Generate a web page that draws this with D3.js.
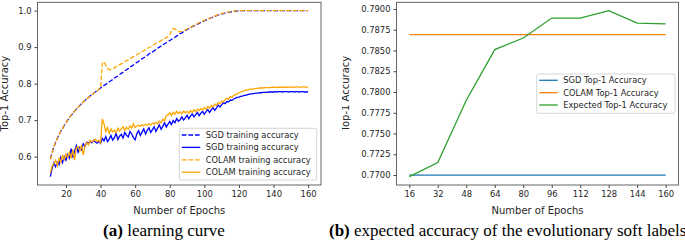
<!DOCTYPE html>
<html>
<head>
<meta charset="utf-8">
<script src="https://cdn.jsdelivr.net/npm/d3@7"></script>
<style>
  body { margin: 0; background: white; }
  svg { display: block; }
  text { font-family: "DejaVu Sans", sans-serif; }
</style>
</head>
<body>
<div id="container"></div>
<script>
/* (a) learning curve data, epochs 11..160 */
const curveEpochs = d3.range(11, 161);

const sgdTrain = [
  0.594, 0.611, 0.626, 0.639, 0.650, 0.660, 0.669, 0.677, 0.685, 0.693,
  0.700, 0.707, 0.713, 0.719, 0.725, 0.730, 0.735, 0.740, 0.745, 0.750,
  0.754, 0.758, 0.762, 0.766, 0.770, 0.773, 0.777, 0.780, 0.784, 0.788,
  0.791, 0.795, 0.798, 0.801, 0.805, 0.808, 0.811, 0.815, 0.818, 0.821,
  0.825, 0.828, 0.831, 0.835, 0.838, 0.841, 0.845, 0.848, 0.851, 0.855,
  0.858, 0.861, 0.864, 0.868, 0.871, 0.874, 0.877, 0.881, 0.884, 0.887,
  0.890, 0.893, 0.897, 0.900, 0.903, 0.906, 0.909, 0.912, 0.915, 0.918,
  0.921, 0.924, 0.927, 0.930, 0.933, 0.937, 0.939, 0.942, 0.945, 0.948,
  0.951, 0.953, 0.956, 0.958, 0.961, 0.963, 0.965, 0.968, 0.970, 0.972,
  0.974, 0.976, 0.979, 0.980, 0.982, 0.984, 0.986, 0.988, 0.989, 0.991,
  0.992, 0.993, 0.994, 0.995, 0.996, 0.997, 0.998, 0.998, 0.999, 0.999,
  0.999, 1.000, 1.000, 1.000, 1.000, 1.000, 1.000, 1.000, 1.000, 1.000,
  1.000, 1.000, 1.000, 1.000, 1.000, 1.000, 1.000, 1.000, 1.000, 1.000,
  1.000, 1.000, 1.000, 1.000, 1.000, 1.000, 1.000, 1.000, 1.000, 1.000,
  1.000, 1.000, 1.000, 1.000, 1.000, 1.000, 1.000, 1.000, 1.000, 1.000
];

const sgdTest = [
  0.545, 0.568, 0.583, 0.572, 0.585, 0.578, 0.598, 0.583, 0.600, 0.590,
  0.605, 0.596, 0.622, 0.597, 0.615, 0.630, 0.612, 0.625, 0.618, 0.635,
  0.628, 0.640, 0.636, 0.642, 0.638, 0.645, 0.640, 0.637, 0.642, 0.636,
  0.650, 0.643, 0.655, 0.641, 0.648, 0.658, 0.645, 0.652, 0.664, 0.647,
  0.656, 0.661, 0.651, 0.666, 0.659, 0.654, 0.669, 0.662, 0.652, 0.646,
  0.663, 0.671, 0.658, 0.667, 0.676, 0.662, 0.672, 0.679, 0.666, 0.674,
  0.682, 0.669, 0.678, 0.687, 0.675, 0.683, 0.693, 0.681, 0.689, 0.696,
  0.688, 0.699, 0.693, 0.704, 0.697, 0.701, 0.709, 0.700, 0.706, 0.713,
  0.704, 0.711, 0.717, 0.709, 0.715, 0.721, 0.712, 0.719, 0.724, 0.716,
  0.723, 0.729, 0.721, 0.728, 0.735, 0.727, 0.733, 0.741, 0.736, 0.742,
  0.748, 0.745, 0.751, 0.750, 0.755, 0.754, 0.758, 0.760, 0.762, 0.763,
  0.765, 0.766, 0.768, 0.768, 0.770, 0.771, 0.772, 0.772, 0.773, 0.774,
  0.774, 0.775, 0.775, 0.776, 0.776, 0.776, 0.777, 0.777, 0.777, 0.777,
  0.778, 0.777, 0.778, 0.778, 0.777, 0.778, 0.778, 0.778, 0.777, 0.778,
  0.778, 0.777, 0.778, 0.778, 0.777, 0.778, 0.778, 0.777, 0.777, 0.778
];

const colamTrain = [
  0.592, 0.610, 0.627, 0.638, 0.651, 0.659, 0.670, 0.676, 0.686, 0.692,
  0.701, 0.706, 0.714, 0.718, 0.726, 0.729, 0.736, 0.739, 0.746, 0.749,
  0.755, 0.757, 0.763, 0.765, 0.771, 0.772, 0.778, 0.779, 0.785, 0.787,
  0.855, 0.860, 0.851, 0.842, 0.838, 0.839, 0.841, 0.843, 0.846, 0.849,
  0.852, 0.854, 0.857, 0.860, 0.863, 0.865, 0.868, 0.871, 0.874, 0.877,
  0.879, 0.882, 0.885, 0.888, 0.890, 0.893, 0.896, 0.899, 0.901, 0.904,
  0.907, 0.910, 0.912, 0.915, 0.918, 0.921, 0.923, 0.926, 0.929, 0.933,
  0.945, 0.951, 0.950, 0.946, 0.943, 0.942, 0.943, 0.945, 0.947, 0.949,
  0.952, 0.954, 0.957, 0.959, 0.962, 0.964, 0.967, 0.969, 0.971, 0.973,
  0.975, 0.977, 0.979, 0.981, 0.983, 0.985, 0.987, 0.989, 0.990, 0.992,
  0.993, 0.994, 0.995, 0.996, 0.997, 0.998, 0.998, 0.999, 0.999, 1.000,
  1.000, 1.000, 1.000, 1.000, 1.000, 1.000, 1.000, 1.000, 1.000, 1.000,
  1.000, 1.000, 1.000, 1.000, 1.000, 1.000, 1.000, 1.000, 1.000, 1.000,
  1.000, 1.000, 1.000, 1.000, 1.000, 1.000, 1.000, 1.000, 1.000, 1.000,
  1.000, 1.000, 1.000, 1.000, 1.000, 1.000, 1.000, 1.000, 1.000, 1.000
];

const colamTest = [
  0.555, 0.575, 0.580, 0.590, 0.576, 0.595, 0.585, 0.603, 0.592, 0.607,
  0.598, 0.612, 0.595, 0.620, 0.590, 0.625, 0.628, 0.615, 0.632, 0.605,
  0.630, 0.638, 0.632, 0.645, 0.640, 0.643, 0.648, 0.641, 0.645, 0.638,
  0.703, 0.690, 0.668, 0.680, 0.664, 0.676, 0.668, 0.672, 0.665, 0.678,
  0.670, 0.676, 0.682, 0.672, 0.680, 0.675, 0.684, 0.678, 0.690, 0.680,
  0.684, 0.686, 0.683, 0.687, 0.685, 0.688, 0.686, 0.690, 0.687, 0.692,
  0.689, 0.694, 0.690, 0.697, 0.693, 0.702, 0.698, 0.712, 0.715, 0.720,
  0.713, 0.722, 0.716, 0.724, 0.718, 0.723, 0.717, 0.725, 0.720, 0.724,
  0.719, 0.726, 0.721, 0.728, 0.723, 0.730, 0.726, 0.732, 0.728, 0.734,
  0.729, 0.737, 0.733, 0.740, 0.736, 0.744, 0.741, 0.748, 0.745, 0.752,
  0.750, 0.756, 0.760, 0.757, 0.765, 0.762, 0.768, 0.770, 0.772, 0.775,
  0.777, 0.779, 0.780, 0.782, 0.782, 0.784, 0.785, 0.785, 0.786, 0.787,
  0.787, 0.788, 0.788, 0.788, 0.789, 0.789, 0.789, 0.789, 0.790, 0.790,
  0.790, 0.789, 0.790, 0.790, 0.790, 0.791, 0.790, 0.790, 0.791, 0.790,
  0.791, 0.790, 0.791, 0.791, 0.790, 0.791, 0.791, 0.791, 0.790, 0.791
];

const curveSeries = [
  { name: "SGD training accuracy", values: sgdTrain, color: "#0000ff", dash: "4.6,2" },
  { name: "SGD training accuracy", values: sgdTest, color: "#0000ff", dash: null },
  { name: "COLAM training accuracy", values: colamTrain, color: "#ffa500", dash: "4.6,2" },
  { name: "COLAM training accuracy", values: colamTest, color: "#ffa500", dash: null }
];
const curveXTicks = [20, 40, 60, 80, 100, 120, 140, 160];
const curveYTicks = [0.6, 0.7, 0.8, 0.9, 1.0];

/* (b) expected accuracy of the soft labels */
const softEpochs = [16, 32, 48, 64, 80, 96, 112, 128, 144, 160];
const sgdTop1 = [0.7700, 0.7700, 0.7700, 0.7700, 0.7700, 0.7700, 0.7700, 0.7700, 0.7700, 0.7700];
const colamTop1 = [0.7869, 0.7869, 0.7869, 0.7869, 0.7869, 0.7869, 0.7869, 0.7869, 0.7869, 0.7869];
const expectedTop1 = [0.7698, 0.7715, 0.7790, 0.7851, 0.7865, 0.7889, 0.7889, 0.7898, 0.7883, 0.7882];

const softSeries = [
  { name: "SGD Top-1 Accuracy", values: sgdTop1, color: "#1f77b4" },
  { name: "COLAM Top-1 Accuracy", values: colamTop1, color: "#ff7f0e" },
  { name: "Expected Top-1 Accuracy", values: expectedTop1, color: "#2ca02c" }
];
const softYTicks = [0.7700, 0.7725, 0.7750, 0.7775, 0.7800, 0.7825, 0.7850, 0.7875, 0.7900];

const W = 685, H = 242;
const tickFont = 8.4, labelFont = 10, legendFont = 8.3;

const svg = d3.select("#container").append("svg")
  .attr("width", W)
  .attr("height", H);

// matplotlib style 5% margins around the data
function padded(lo, hi) {
  const r = hi - lo;
  return [lo - 0.05 * r, hi + 0.05 * r];
}

function drawPanel(g, box, xs, series, xTicks, yTicks, yFmt, legend) {
  const allY = series.flatMap(s => s.values);
  const x = d3.scaleLinear().domain(padded(d3.min(xs), d3.max(xs))).range([box.left, box.right]);
  const y = d3.scaleLinear().domain(padded(d3.min(allY), d3.max(allY))).range([box.bottom, box.top]);

  const xAxis = g.append("g")
    .attr("transform", `translate(0,${box.bottom})`)
    .call(d3.axisBottom(x).tickValues(xTicks).tickSize(3).tickPadding(2.8).tickFormat(d3.format("d")));
  const yAxis = g.append("g")
    .attr("transform", `translate(${box.left},0)`)
    .call(d3.axisLeft(y).tickValues(yTicks).tickSize(3).tickPadding(3).tickFormat(d3.format(yFmt)));
  [xAxis, yAxis].forEach(a => {
    a.select(".domain").remove();
    a.selectAll("line").attr("stroke", "#444");
    a.selectAll("text").attr("fill", "#262626").style("font-size", tickFont + "px")
      .style("font-family", "DejaVu Sans");
  });

  const line = d3.line()
    .x((d, i) => x(xs[i]))
    .y(d => y(d));

  series.forEach(s => {
    g.append("path")
      .datum(s.values)
      .attr("d", line)
      .attr("fill", "none")
      .attr("stroke", s.color)
      .attr("stroke-width", 1.3)
      .attr("stroke-dasharray", s.dash || null);
  });

  // frame
  g.append("rect")
    .attr("x", box.left).attr("y", box.top)
    .attr("width", box.right - box.left).attr("height", box.bottom - box.top)
    .attr("fill", "none").attr("stroke", "#555").attr("stroke-width", 0.9);

  // axis labels
  g.append("text")
    .attr("x", (box.left + box.right) / 2).attr("y", 214)
    .attr("text-anchor", "middle").attr("fill", "#262626")
    .style("font-size", labelFont + "px")
    .text("Number of Epochs");
  g.append("text")
    .attr("transform", `translate(${box.ylabelX},${(box.top + box.bottom) / 2}) rotate(-90)`)
    .attr("text-anchor", "middle").attr("fill", "#262626")
    .style("font-size", labelFont + "px")
    .text("Top-1 Accuracy");

  // legend
  const lg = g.append("g");
  lg.append("rect")
    .attr("x", legend.x0).attr("y", legend.y0)
    .attr("width", legend.x1 - legend.x0).attr("height", legend.y1 - legend.y0)
    .attr("rx", 2)
    .attr("fill", "white").attr("fill-opacity", 0.85)
    .attr("stroke", "#cccccc").attr("stroke-width", 0.8);
  series.forEach((s, i) => {
    const cy = legend.firstY + i * legend.step;
    lg.append("line")
      .attr("x1", legend.x0 + 2.5).attr("x2", legend.x0 + 21)
      .attr("y1", cy).attr("y2", cy)
      .attr("stroke", s.color).attr("stroke-width", 1.3)
      .attr("stroke-dasharray", s.dash || null);
    lg.append("text")
      .attr("x", legend.x0 + 26.5).attr("y", cy)
      .attr("dy", "0.35em").attr("fill", "#262626")
      .style("font-size", legendFont + "px")
      .text(s.name);
  });
}

// (a) left panel
const left = svg.append("g");
drawPanel(left,
  { left: 37.5, right: 321, top: 2.3, bottom: 185, ylabelX: 8.3 },
  curveEpochs, curveSeries, curveXTicks, curveYTicks, ".1f",
  { x0: 179.3, x1: 316.7, y0: 128.3, y1: 180, firstY: 135, step: 12.4 });

// (b) right panel, cropped on its left edge like the source figure
svg.append("clipPath").attr("id", "clipB")
  .append("rect").attr("x", 342).attr("y", 0).attr("width", W - 342).attr("height", 220);
const right = svg.append("g").attr("clip-path", "url(#clipB)");
drawPanel(right,
  { left: 396.5, right: 678.5, top: 2.3, bottom: 185, ylabelX: 348.5 },
  softEpochs, softSeries, softEpochs, softYTicks, ".4f",
  { x0: 536.7, x1: 675, y0: 74, y1: 113.3, firstY: 80.3, step: 12.35 });

// captions
const capA = svg.append("text")
  .attr("x", 164).attr("y", 235.5)
  .attr("text-anchor", "middle")
  .style("font-family", "Liberation Serif")
  .style("font-size", "17px");
capA.append("tspan").attr("font-weight", "bold").text("(a)");
capA.append("tspan").text(" learning curve");

const capB = svg.append("text")
  .attr("x", 329).attr("y", 235.5)
  .style("font-family", "Liberation Serif")
  .style("font-size", "17px");
capB.append("tspan").attr("font-weight", "bold").text("(b)");
capB.append("tspan").text(" expected accuracy of the evolutionary soft labels");
</script>
</body>
</html>
